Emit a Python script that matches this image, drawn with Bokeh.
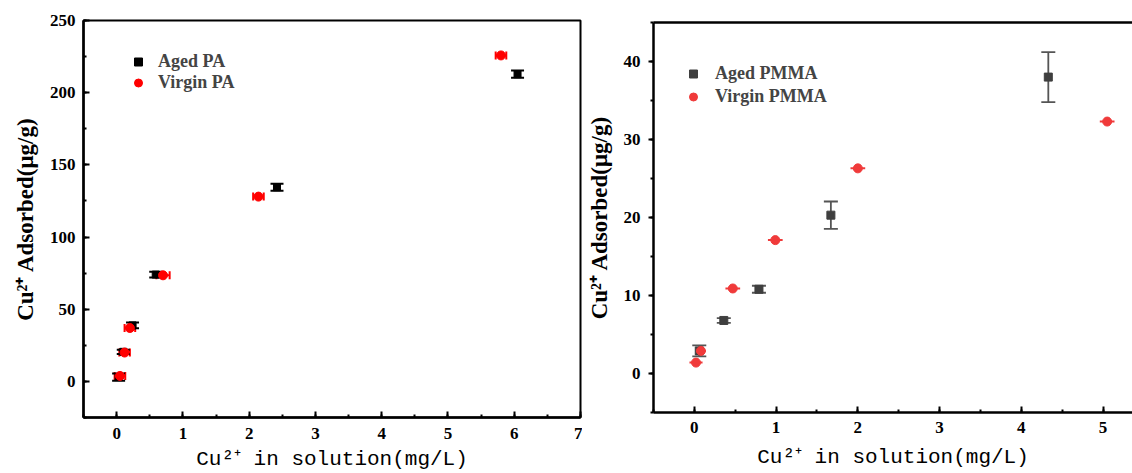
import numpy as np
from bokeh.plotting import figure
from bokeh.layouts import row
from bokeh.models import (ColumnDataSource, Whisker, TeeHead, SingleIntervalTicker,
                          LinearAxis, FixedTicker, Range1d)
from bokeh.embed import file_html
from bokeh.resources import INLINE

# ---------------- data: PA (left) ----------------
aged_pa_x = [0.03, 0.10, 0.24, 0.59, 2.42, 6.05]
aged_pa_y = [3.0, 20.5, 38.8, 74.0, 134.5, 212.8]
aged_pa_yerr = [2.5, 1.5, 2.0, 2.0, 2.5, 2.5]

virgin_pa_x = [0.05, 0.12, 0.20, 0.70, 2.14, 5.80]
virgin_pa_y = [3.8, 20.0, 37.0, 73.5, 128.0, 225.8]
virgin_pa_xerr = [0.08, 0.08, 0.08, 0.10, 0.08, 0.08]

# ---------------- data: PMMA (right) ----------------
aged_pmma_x = [0.06, 0.36, 0.79, 1.67, 4.33]
aged_pmma_y = [2.9, 6.8, 10.8, 20.3, 38.0]
aged_pmma_yerr = [0.7, 0.3, 0.45, 1.75, 3.2]

virgin_pmma_x = [0.02, 0.08, 0.47, 0.99, 2.00, 5.05]
virgin_pmma_y = [1.4, 2.9, 10.9, 17.1, 26.3, 32.3]
virgin_pmma_xerr = [0.08, 0.06, 0.09, 0.09, 0.09, 0.09]

SERIF = "Liberation Serif"
MONO = "Liberation Mono"
YLABEL = "Cu²⁺ Adsorbed(μg/g)"
XLABEL = "Cu²⁺ in solution(mg/L)"


def style_x(ax, lab_standoff, axlab_standoff):
    ax.axis_line_width = 2.5
    ax.major_tick_in = 6
    ax.major_tick_out = 0
    ax.minor_tick_in = 3
    ax.minor_tick_out = 0
    ax.major_tick_line_width = 2
    ax.minor_tick_line_width = 2
    ax.major_label_text_font = SERIF
    ax.major_label_text_font_style = "bold"
    ax.major_label_text_font_size = "17px"
    ax.major_label_text_color = "black"
    ax.major_label_standoff = lab_standoff
    ax.axis_label_text_font = MONO
    ax.axis_label_text_font_style = "normal"
    ax.axis_label_text_font_size = "21px"
    ax.axis_label_text_color = "black"
    ax.axis_label_standoff = axlab_standoff


def style_y(ax, tick_out, tick_in):
    ax.axis_line_width = 2.5
    ax.major_tick_in = tick_in
    ax.major_tick_out = tick_out
    ax.minor_tick_in = 3 if tick_in else 0
    ax.minor_tick_out = 0 if tick_in else 3
    ax.major_tick_line_width = 2
    ax.minor_tick_line_width = 2
    ax.major_label_text_font = SERIF
    ax.major_label_text_font_style = "bold"
    ax.major_label_text_font_size = "17px"
    ax.major_label_text_color = "black"
    ax.major_label_standoff = 8
    ax.axis_label_text_font = SERIF
    ax.axis_label_text_font_style = "bold"
    ax.axis_label_text_font_size = "23px"
    ax.axis_label_text_color = "black"
    ax.axis_label_standoff = 9


# ================= left figure: PA =================
p1 = figure(width=582, height=473, output_backend="svg", toolbar_location=None,
            x_range=Range1d(-0.5, 7), y_range=Range1d(-25, 250),
            min_border_left=83, min_border_right=2, min_border_top=20,
            min_border_bottom=55, frame_align=False)
p1.grid.visible = False
p1.outline_line_color = "black"
p1.outline_line_width = 2
p1.xaxis.ticker = SingleIntervalTicker(interval=1, num_minor_ticks=2)
p1.yaxis.ticker = SingleIntervalTicker(interval=50, num_minor_ticks=2)
p1.xaxis.axis_label = XLABEL
p1.yaxis.axis_label = YLABEL
style_x(p1.xaxis[0], 10, 6)
style_y(p1.yaxis[0], 0, 6)

a_src = ColumnDataSource(dict(
    x=aged_pa_x, y=aged_pa_y,
    lo=list(np.array(aged_pa_y) - np.array(aged_pa_yerr)),
    hi=list(np.array(aged_pa_y) + np.array(aged_pa_yerr))))
v_src = ColumnDataSource(dict(
    x=virgin_pa_x, y=virgin_pa_y,
    lo=list(np.array(virgin_pa_x) - np.array(virgin_pa_xerr)),
    hi=list(np.array(virgin_pa_x) + np.array(virgin_pa_xerr))))

p1.add_layout(Whisker(source=v_src, base="y", lower="lo", upper="hi", dimension="width",
                      line_color="red", line_width=2,
                      upper_head=TeeHead(size=8, line_color="red", line_width=2),
                      lower_head=TeeHead(size=8, line_color="red", line_width=2)))
p1.add_layout(Whisker(source=a_src, base="x", lower="lo", upper="hi", dimension="height",
                      line_color="black", line_width=2,
                      upper_head=TeeHead(size=13, line_color="black", line_width=2),
                      lower_head=TeeHead(size=13, line_color="black", line_width=2)))
p1.scatter("x", "y", source=a_src, marker="square", size=7, color="black",
           legend_label="Aged PA")
p1.scatter("x", "y", source=v_src, marker="circle", size=9, color="red",
           legend_label="Virgin PA")

lg1 = p1.legend[0]
lg1.location = (45, 324)
lg1.padding = 0
lg1.margin = 0
lg1.spacing = 0
lg1.border_line_color = None
lg1.background_fill_alpha = 0
lg1.label_text_font = SERIF
lg1.label_text_font_style = "bold"
lg1.label_text_font_size = "18px"
lg1.label_height = 21
lg1.glyph_height = 21
lg1.glyph_width = 20
lg1.label_standoff = 10

# ================= right figure: PMMA =================
p2 = figure(width=550, height=473, output_backend="svg", toolbar_location=None,
            x_range=Range1d(-0.5, 5.36), y_range=Range1d(-5, 45),
            min_border_left=71, min_border_right=0, min_border_top=22,
            min_border_bottom=61, frame_align=False)
p2.grid.visible = False
p2.outline_line_color = None
bottom2 = p2.below[0]
bottom2.ticker = SingleIntervalTicker(interval=1, num_minor_ticks=2)
bottom2.axis_label = XLABEL
style_x(bottom2, 9, 10)
p2.yaxis.ticker = SingleIntervalTicker(interval=10, num_minor_ticks=2)
p2.yaxis.axis_label = YLABEL
style_y(p2.yaxis[0], 5, 0)

top_axis = LinearAxis(ticker=FixedTicker(ticks=[]), axis_line_width=2.5,
                      major_tick_in=0, major_tick_out=0,
                      minor_tick_in=0, minor_tick_out=0,
                      major_tick_line_color=None, minor_tick_line_color=None,
                      major_label_text_font_size="0px", major_label_standoff=0)
p2.add_layout(top_axis, "above")

GRAY = "#3f3f3f"
RED2 = "#f03a3a"
a2_src = ColumnDataSource(dict(
    x=aged_pmma_x, y=aged_pmma_y,
    lo=list(np.array(aged_pmma_y) - np.array(aged_pmma_yerr)),
    hi=list(np.array(aged_pmma_y) + np.array(aged_pmma_yerr))))
v2_src = ColumnDataSource(dict(
    x=virgin_pmma_x, y=virgin_pmma_y,
    lo=list(np.array(virgin_pmma_x) - np.array(virgin_pmma_xerr)),
    hi=list(np.array(virgin_pmma_x) + np.array(virgin_pmma_xerr))))

p2.add_layout(Whisker(source=a2_src, base="x", lower="lo", upper="hi", dimension="height",
                      line_color="#555555", line_width=1.8,
                      upper_head=TeeHead(size=14, line_color="#555555", line_width=1.8),
                      lower_head=TeeHead(size=14, line_color="#555555", line_width=1.8)))
p2.add_layout(Whisker(source=v2_src, base="y", lower="lo", upper="hi", dimension="width",
                      line_color=RED2, line_width=2,
                      upper_head=None, lower_head=None))
p2.scatter("x", "y", source=a2_src, marker="square", size=8, color=GRAY,
           legend_label="Aged PMMA")
p2.scatter("x", "y", source=v2_src, marker="circle", size=9, color=RED2,
           legend_label="Virgin PMMA")

lg2 = p2.legend[0]
lg2.location = (30, 304)
lg2.padding = 0
lg2.margin = 0
lg2.spacing = 0
lg2.border_line_color = None
lg2.background_fill_alpha = 0
lg2.label_text_font = SERIF
lg2.label_text_font_style = "bold"
lg2.label_text_font_size = "18px"
lg2.label_height = 23
lg2.glyph_height = 23
lg2.glyph_width = 20
lg2.label_standoff = 12

layout = row(p1, p2)
open("out.html", "w").write(file_html(layout, INLINE))
